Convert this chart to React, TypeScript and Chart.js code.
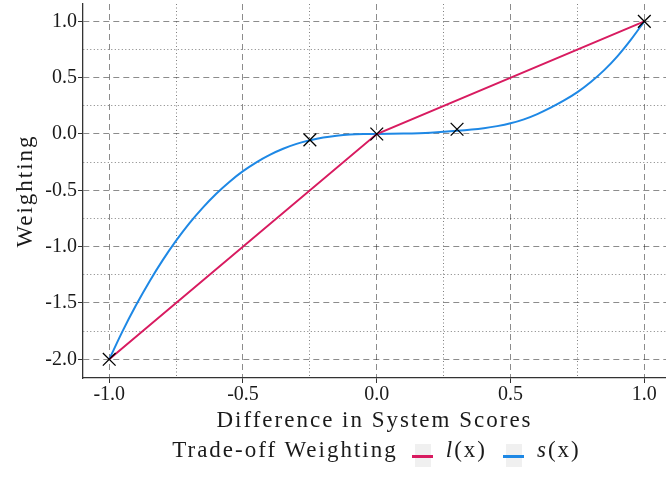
import React, { useEffect, useRef } from "react";
import { Chart, registerables } from "chart.js";

Chart.register(...registerables);

// l(x): piecewise linear trade-off weighting
const lX = [-1, 0, 1];
const lY = [-2, 0, 1];

// s(x): smooth trade-off weighting
const sX = [-1, -0.95, -0.9, -0.85, -0.8, -0.75, -0.7, -0.65, -0.6, -0.55, -0.5, -0.45, -0.4, -0.35, -0.3, -0.25, -0.2, -0.15, -0.1, -0.05, 0, 0.1, 0.2, 0.3, 0.4, 0.45, 0.5, 0.55, 0.6, 0.65, 0.7, 0.75, 0.8, 0.85, 0.9, 0.95, 1];
const sY = [-2, -1.75, -1.521, -1.311, -1.12, -0.947, -0.791, -0.653, -0.53, -0.423, -0.33, -0.251, -0.185, -0.131, -0.088, -0.056, -0.031, -0.015, -0.005, -0.001, 0, 0.004, 0.012, 0.028, 0.052, 0.07, 0.095, 0.13, 0.177, 0.234, 0.298, 0.372, 0.462, 0.567, 0.692, 0.838, 1];

// Anchor points marked with crosses
const markX = [-1, -0.25, 0, 0.3, 1];
const markY = [-2, -0.052, 0, 0.042, 1];

const xTicks = ["-1.0", "-0.5", "0.0", "0.5", "1.0"];
const yTicks = ["-2.0", "-1.5", "-1.0", "-0.5", "0.0", "0.5", "1.0"];

const xTitle = "Difference in System Scores";
const yTitle = "Weighting";
const legendTitle = "Trade-off Weighting";
const seriesNames = ["l", "s"];
const seriesColors = ["#d81b60", "#1e88e5"];

const FONT = "'Liberation Serif', 'DejaVu Serif', serif";

const isMajor = (v: number) => Math.abs(v * 2 - Math.round(v * 2)) < 1e-6;
const fmt = (v: number) => (Math.round(v * 10) / 10).toFixed(1);

const textStyle: React.CSSProperties = {
  position: "absolute",
  fontFamily: FONT,
  fontSize: 23,
  lineHeight: "26px",
  letterSpacing: "2px",
  color: "#1a1a1a",
  whiteSpace: "nowrap",
};

export default function App() {
  const ref = useRef<HTMLCanvasElement | null>(null);

  useEffect(() => {
    document.body.style.margin = "0";
    const ctx = ref.current!;
    const gridOpts = {
      color: (c: any) => (c.tick && isMajor(c.tick.value) ? "rgba(0,0,0,0.45)" : "rgba(0,0,0,0.5)"),
      lineWidth: 1,
      tickColor: (c: any) => (c.tick && isMajor(c.tick.value) ? "#333" : "rgba(0,0,0,0)"),
      tickLength: 5,
      tickWidth: 1,
      tickBorderDash: [],
    };
    const borderOpts = {
      display: true,
      color: "#333",
      width: 1.3,
      dash: (c: any) => (c.tick ? (isMajor(c.tick.value) ? [6, 4] : [1, 2.5]) : []),
    };
    const chart = new Chart(ctx, {
      type: "scatter",
      data: {
        datasets: [
          {
            label: "marks",
            data: markX.map((x, i) => ({ x, y: markY[i] })),
            pointStyle: "crossRot",
            pointRadius: 9,
            pointBorderWidth: 1.3,
            borderColor: "#000",
            backgroundColor: "#000",
            showLine: false,
          },
          {
            label: "l(x)",
            data: lX.map((x, i) => ({ x, y: lY[i] })),
            showLine: true,
            borderColor: seriesColors[0],
            borderWidth: 2,
            pointRadius: 0,
          },
          {
            label: "s(x)",
            data: sX.map((x, i) => ({ x, y: sY[i] })),
            showLine: true,
            borderColor: seriesColors[1],
            borderWidth: 2,
            pointRadius: 0,
            cubicInterpolationMode: "monotone",
          } as any,
        ],
      },
      options: {
        animation: false,
        responsive: false,
        layout: { autoPadding: false, padding: { top: 4, right: 0, bottom: 40, left: 0 } },
        plugins: { legend: { display: false }, tooltip: { enabled: false } },
        scales: {
          x: {
            type: "linear",
            min: -1.098,
            max: 1.081,
            afterFit: (s: any) => {
              s.height = 59;
              s.paddingLeft = 0;
              s.paddingRight = 0;
            },
            ticks: {
              stepSize: 0.25,
              includeBounds: false,
              autoSkip: false,
              maxRotation: 0,
              padding: 0,
              color: "#1a1a1a",
              font: { family: FONT, size: 20 },
              callback: (v: any) => (isMajor(Number(v)) && xTicks.includes(fmt(Number(v))) ? fmt(Number(v)) : ""),
            },
            grid: gridOpts as any,
            border: borderOpts as any,
          },
          y: {
            type: "linear",
            min: -2.166,
            max: 1.154,
            afterFit: (s: any) => {
              s.width = 83;
              s.paddingTop = 0;
              s.paddingBottom = 0;
            },
            ticks: {
              stepSize: 0.25,
              includeBounds: false,
              autoSkip: false,
              padding: 1,
              color: "#1a1a1a",
              font: { family: FONT, size: 20 },
              callback: (v: any) => (isMajor(Number(v)) && yTicks.includes(fmt(Number(v))) ? fmt(Number(v)) : ""),
            },
            grid: gridOpts as any,
            border: borderOpts as any,
          },
        },
      },
    });
    return () => chart.destroy();
  }, []);

  return (
    <div style={{ position: "absolute", left: 0, top: 0, width: 666, height: 477, overflow: "hidden" }}>
      <canvas ref={ref} width={666} height={477} style={{ display: "block" }} />
      <div style={{ ...textStyle, left: 83, width: 583, top: 407, textAlign: "center" }}>{xTitle}</div>
      <div
        style={{
          ...textStyle,
          left: 25 - 100,
          top: 191 - 13,
          width: 200,
          height: 26,
          textAlign: "center",
          transform: "rotate(-90deg)",
        }}
      >
        {yTitle}
      </div>
      <div
        style={{
          ...textStyle,
          left: 83,
          width: 583,
          top: 437,
          height: 26,
          display: "flex",
          justifyContent: "center",
          alignItems: "flex-start",
          paddingLeft: 4,
          boxSizing: "border-box",
        }}
      >
        <span style={{ marginRight: 14 }}>{legendTitle}</span>
        {seriesNames.map((n, i) => (
          <span key={n} style={{ display: "flex", alignItems: "flex-start", marginRight: i === 0 ? 16 : 0 }}>
            <span style={{ position: "relative", width: 20, height: 26, marginRight: 14 }}>
              <span style={{ position: "absolute", left: 3, width: 16, top: 7, height: 23, background: "#f0f0f0" }} />
              <span style={{ position: "absolute", left: 0, width: 21, top: 18, height: 2.5, background: seriesColors[i] }} />
            </span>
            <span>
              <i>{n}</i>(x)
            </span>
          </span>
        ))}
      </div>
    </div>
  );
}
